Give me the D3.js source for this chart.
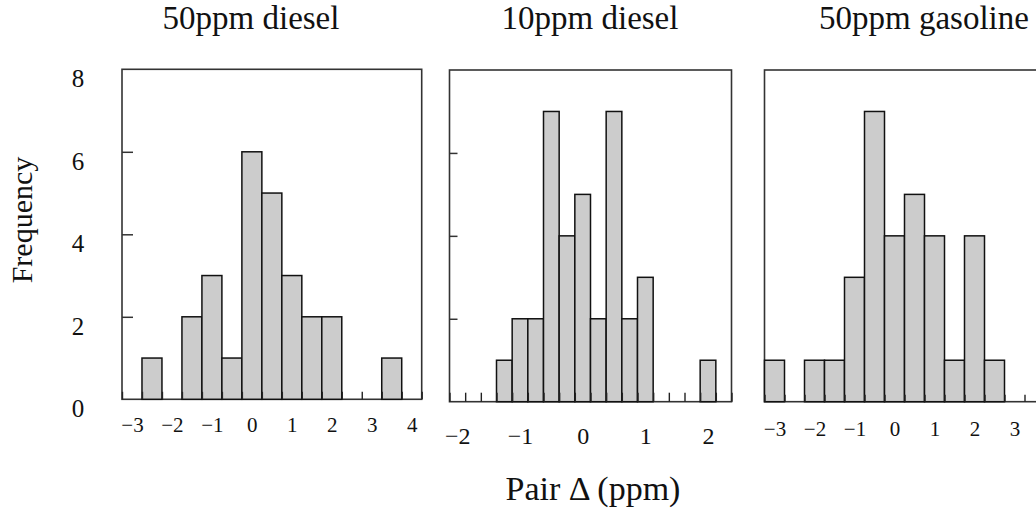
<!DOCTYPE html>
<html>
<head>
<meta charset="utf-8">
<script src="https://cdn.jsdelivr.net/npm/d3@7/dist/d3.min.js"></script>
<style>
  html, body { margin: 0; padding: 0; background: #fff; }
  svg { display: block; }
  text { font-family: "Liberation Serif", "Times New Roman", serif; fill: #111; }
</style>
</head>
<body>
<svg id="chart" width="1036" height="511"></svg>
<script>
// Histogram bins: centre of each bin (ppm) and the number of pairs in it
const titles = ["50ppm diesel", "10ppm diesel", "50ppm gasoline"];

const diesel50Centers = [-2.5, -2, -1.5, -1, -0.5, 0, 0.5, 1, 1.5, 2, 2.5, 3, 3.5];
const diesel50Counts  = [1, 0, 2, 3, 1, 6, 5, 3, 2, 2, 0, 0, 1];

const diesel10Centers = [-1.25, -1, -0.75, -0.5, -0.25, 0, 0.25, 0.5, 0.75, 1, 1.25, 1.5, 1.75, 2];
const diesel10Counts  = [1, 2, 2, 7, 4, 5, 2, 7, 2, 3, 0, 0, 0, 1];

const gasoline50Centers = [-3, -2.5, -2, -1.5, -1, -0.5, 0, 0.5, 1, 1.5, 2, 2.5];
const gasoline50Counts  = [1, 0, 1, 1, 3, 7, 4, 5, 4, 1, 4, 1];

const binWidths = [0.5, 0.25, 0.5];

const xTickLabels1 = [-3, -2, -1, 0, 1, 2, 3, 4];
const xTickLabels2 = [-2, -1, 0, 1, 2];
const xTickLabels3 = [-3, -2, -1, 0, 1, 2, 3];

const yTicks = [0, 2, 4, 6, 8];

// Layout of the three panels
const panels = [
  { title: titles[0], centers: diesel50Centers, counts: diesel50Counts, bw: binWidths[0],
    domain: [-3.25, 4.25], left: 122, right: 421.7, top: 69.3, bottom: 399.3,
    xLabels: xTickLabels1, labelSize: 21, labelBase: 432, yInnerTicks: true, ytick: 11, xtick: 7.5,
    titleX: 251, tickLabels: true },
  { title: titles[1], centers: diesel10Centers, counts: diesel10Counts, bw: binWidths[1],
    domain: [-2.125, 2.375], left: 449.5, right: 731.5, top: 70, bottom: 401.7,
    xLabels: xTickLabels2, labelSize: 24, labelBase: 443.5, yInnerTicks: true, ytick: 8, xtick: 9,
    titleX: 590, tickLabels: false },
  { title: titles[2], centers: gasoline50Centers, counts: gasoline50Counts, bw: binWidths[2],
    domain: [-3.25, 3.75], left: 764.5, right: 1044.5, top: 70, bottom: 401.7,
    xLabels: xTickLabels3, labelSize: 21, labelBase: 435.5, yInnerTicks: false, ytick: 0, xtick: 7,
    titleX: 924, tickLabels: false }
];

const intFmt = d3.format("d");
const svg = d3.select("#chart");

panels.forEach(p => {
  const x = d3.scaleLinear().domain(p.domain).range([p.left, p.right]);
  const y = d3.scaleLinear().domain([0, 8]).range([p.bottom, p.top]);
  const g = svg.append("g");

  // frame
  g.append("rect")
    .attr("x", p.left).attr("y", p.top)
    .attr("width", p.right - p.left).attr("height", p.bottom - p.top)
    .attr("fill", "none").attr("stroke", "#333").attr("stroke-width", 1.6);

  // bars
  const bins = p.centers.map((c, i) => ({ c, n: p.counts[i] })).filter(d => d.n > 0);
  g.selectAll("rect.bar").data(bins).join("rect")
    .attr("class", "bar")
    .attr("x", d => x(d.c - p.bw / 2))
    .attr("width", d => x(d.c + p.bw / 2) - x(d.c - p.bw / 2))
    .attr("y", d => y(d.n))
    .attr("height", d => y(0) - y(d.n))
    .attr("fill", "#cccccc").attr("stroke", "#111").attr("stroke-width", 1.5);

  // minor ticks at the bin edges, pointing into the plot
  const edges = d3.range(Math.round((p.domain[1] - p.domain[0]) / p.bw) + 1)
    .map(k => p.domain[0] + k * p.bw);
  const minor = g.append("g").attr("transform", `translate(0,${p.bottom})`)
    .call(d3.axisBottom(x).tickValues(edges).tickSize(-p.xtick).tickFormat(""));
  minor.select(".domain").remove();
  minor.selectAll("line").attr("stroke", "#222").attr("stroke-width", 1.4);

  // x tick labels
  const xl = g.append("g").attr("transform", `translate(0,${p.labelBase})`)
    .call(d3.axisBottom(x).tickValues(p.xLabels).tickFormat(intFmt).tickSize(0).tickPadding(0));
  xl.select(".domain").remove();
  xl.selectAll("text")
    .attr("dy", 0).attr("y", 0)
    .style("font-family", "'Liberation Serif', serif")
    .style("font-size", p.labelSize + "px").attr("fill", "#111");

  // y ticks inside the left edge
  if (p.yInnerTicks) {
    const ya = g.append("g").attr("transform", `translate(${p.left},0)`)
      .call(d3.axisRight(y).tickValues([2, 4, 6]).tickSize(p.ytick).tickFormat(""));
    ya.select(".domain").remove();
    ya.selectAll("line").attr("stroke", "#333").attr("stroke-width", 1.5);
  }

  // y tick labels (first panel only)
  if (p.tickLabels) {
    const yl = g.append("g").attr("transform", "translate(78,0)")
      .call(d3.axisLeft(y).tickValues(yTicks).tickFormat(intFmt).tickSize(0).tickPadding(0));
    yl.select(".domain").remove();
    yl.selectAll("text")
      .attr("x", 0).attr("dy", "0.85em").attr("transform", "translate(0,-4)")
      .attr("text-anchor", "middle")
      .style("font-family", "'Liberation Serif', serif")
      .style("font-size", "25px").attr("fill", "#111");
  }

  // panel title
  svg.append("text")
    .attr("x", p.titleX).attr("y", 28.5)
    .attr("text-anchor", "middle")
    .style("font-size", "33px")
    .text(p.title);
});

// axis titles
svg.append("text")
  .attr("transform", "translate(31.5,220) rotate(-90)")
  .attr("text-anchor", "middle")
  .style("font-size", "30px")
  .text("Frequency");

svg.append("text")
  .attr("x", 593).attr("y", 500)
  .attr("text-anchor", "middle")
  .style("font-size", "34px")
  .text("Pair Δ (ppm)");
</script>
</body>
</html>
